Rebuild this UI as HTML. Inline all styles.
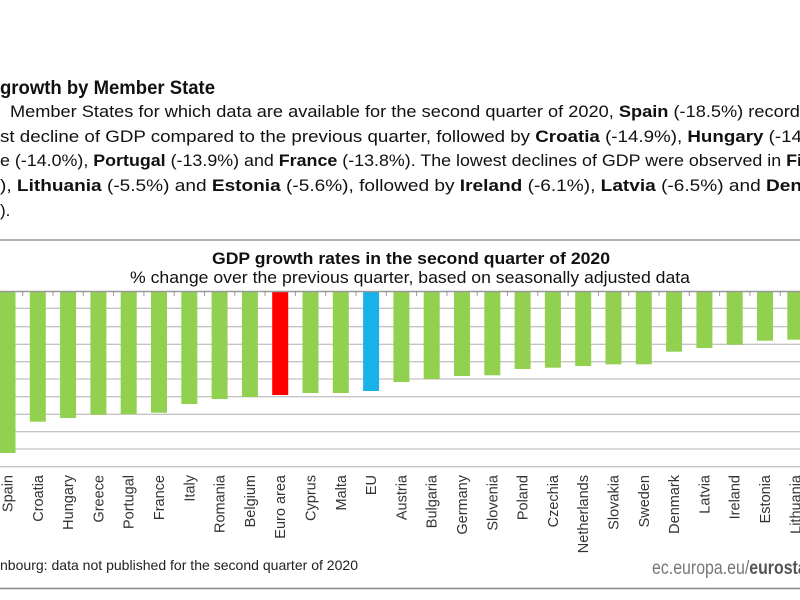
<!DOCTYPE html>
<html><head><meta charset="utf-8"><style>
html,body{margin:0;padding:0;background:#fff;width:800px;height:600px;overflow:hidden}
svg{display:block;font-family:"Liberation Sans",Arial,sans-serif}
</style></head><body>
<svg width="800" height="600" viewBox="0 0 800 600">
<rect width="800" height="600" fill="#fff"/>
<text x="0" y="94" font-size="19" font-weight="bold" fill="#111" textLength="215" lengthAdjust="spacingAndGlyphs">growth by Member State</text>
<g font-size="17" fill="#111">
<text x="10" y="117" textLength="800" lengthAdjust="spacingAndGlyphs">Member States for which data are available for the second quarter of 2020, <tspan font-weight="bold">Spain</tspan> (-18.5%) recorde</text>
<text x="0" y="142" textLength="802" lengthAdjust="spacingAndGlyphs">st decline of GDP compared to the previous quarter, followed by <tspan font-weight="bold">Croatia</tspan> (-14.9%), <tspan font-weight="bold">Hungary</tspan> (-14</text>
<text x="0" y="166" textLength="802" lengthAdjust="spacingAndGlyphs">e (-14.0%), <tspan font-weight="bold">Portugal</tspan> (-13.9%) and <tspan font-weight="bold">France</tspan> (-13.8%). The lowest declines of GDP were observed in <tspan font-weight="bold">Fi</tspan></text>
<text x="0" y="191" textLength="802" lengthAdjust="spacingAndGlyphs">), <tspan font-weight="bold">Lithuania</tspan>  (-5.5%)  and  <tspan font-weight="bold">Estonia</tspan>  (-5.6%),  followed  by  <tspan font-weight="bold">Ireland</tspan>  (-6.1%),  <tspan font-weight="bold">Latvia</tspan>  (-6.5%)  and  <tspan font-weight="bold">Den</tspan></text>
<text x="0" y="216">).</text>
</g>
<line x1="0" y1="240" x2="800" y2="240" stroke="#999" stroke-width="1.5"/>
<text x="411" y="264" font-size="17" font-weight="bold" fill="#111" text-anchor="middle" textLength="398" lengthAdjust="spacingAndGlyphs">GDP growth rates in the second quarter of 2020</text>
<text x="410" y="283" font-size="16.5" fill="#111" text-anchor="middle" textLength="560" lengthAdjust="spacingAndGlyphs">% change over the previous quarter, based on seasonally adjusted data</text>
<g stroke="#c4c4c4" stroke-width="1.3">
<line x1="0" x2="800" y1="308.3" y2="308.3"/><line x1="0" x2="800" y1="326.7" y2="326.7"/>
<line x1="0" x2="800" y1="344.3" y2="344.3"/><line x1="0" x2="800" y1="361.7" y2="361.7"/>
<line x1="0" x2="800" y1="379" y2="379"/><line x1="0" x2="800" y1="396.7" y2="396.7"/>
<line x1="0" x2="800" y1="414.3" y2="414.3"/><line x1="0" x2="800" y1="431.7" y2="431.7"/>
<line x1="0" x2="800" y1="449" y2="449"/><line x1="0" x2="800" y1="466.7" y2="466.7"/>
</g>
<g id="bars"></g>
<line x1="0" y1="291.5" x2="800" y2="291.5" stroke="#999" stroke-width="1.5"/>
<g id="ticks" stroke="#999" stroke-width="1"></g>
<g id="labels" font-size="14.5" fill="#333"></g>
<text x="0" y="570" font-size="14" fill="#222" textLength="358" lengthAdjust="spacingAndGlyphs">nbourg:  data not published  for the second quarter of 2020</text>
<text x="652" y="574" font-size="19" fill="#777" textLength="160" lengthAdjust="spacingAndGlyphs">ec.europa.eu/<tspan font-weight="bold" fill="#555">eurostat</tspan></text>
<line x1="0" y1="588.5" x2="800" y2="588.5" stroke="#888" stroke-width="1.5"/>
</svg>
<script>
var names=["Spain","Croatia","Hungary","Greece","Portugal","France","Italy","Romania","Belgium","Euro area","Cyprus","Malta","EU","Austria","Bulgaria","Germany","Slovenia","Poland","Czechia","Netherlands","Slovakia","Sweden","Denmark","Latvia","Ireland","Estonia","Lithuania"];
var bot=[453,421.7,418,414.7,414,412.7,404,399,397,395,393,393,391,382,379,376,375.3,369,367.7,366,364.3,364.3,351.7,348,344.7,340.7,339.7];
var ns="http://www.w3.org/2000/svg",B=document.getElementById("bars"),T=document.getElementById("ticks"),L=document.getElementById("labels");
for(var i=0;i<names.length;i++){
 var x=-0.5+i*30.3;
 var r=document.createElementNS(ns,"rect");
 r.setAttribute("x",x);r.setAttribute("y",292);r.setAttribute("width",16);r.setAttribute("height",bot[i]-292);
 r.setAttribute("fill",i==9?"#ff0000":(i==12?"#1ab0e8":"#92d050"));B.appendChild(r);
 var t=document.createElementNS(ns,"line");var tx=x+23.2;
 t.setAttribute("x1",tx);t.setAttribute("x2",tx);t.setAttribute("y1",291);t.setAttribute("y2",296);T.appendChild(t);
 var l=document.createElementNS(ns,"text");var cx=x+8+5;
 l.setAttribute("transform","translate("+cx+",475) rotate(-90)");l.setAttribute("text-anchor","end");
 l.textContent=names[i];L.appendChild(l);
}
</script>
</body></html>
